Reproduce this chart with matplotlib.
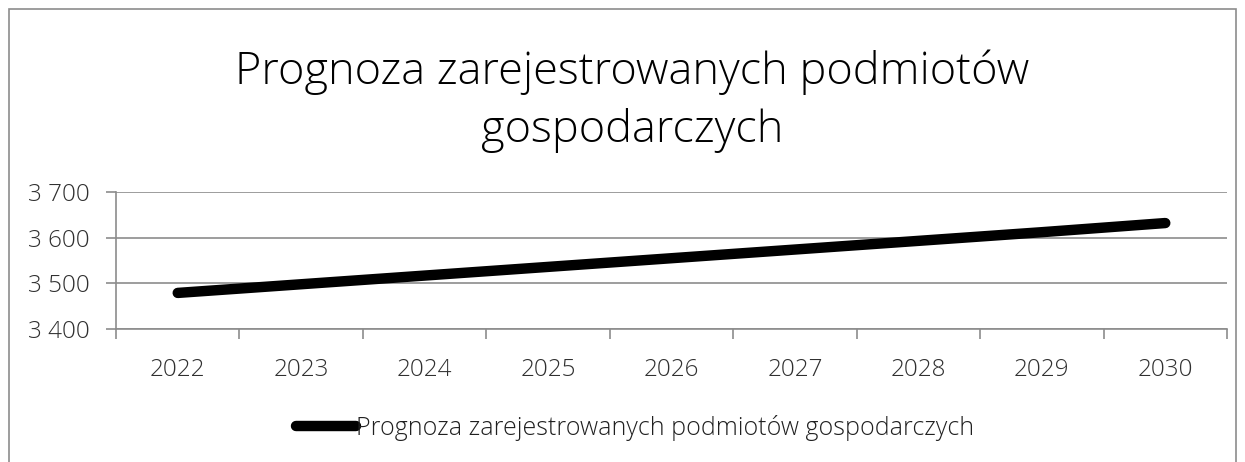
import matplotlib.pyplot as plt
from matplotlib.patches import Rectangle
from matplotlib.ticker import FuncFormatter

years = ['2022', '2023', '2024', '2025', '2026', '2027', '2028', '2029', '2030']
values = [3479, 3498, 3517, 3536, 3555, 3574, 3593, 3612, 3632]
label = 'Prognoza zarejestrowanych podmiotów gospodarczych'

plt.rcParams['font.family'] = ['Open Sans', 'DejaVu Sans']
plt.rcParams['font.weight'] = 'light'

grey = '#8c8c8c'
txt = '#303030'
fig = plt.figure(figsize=(12.45, 4.62), dpi=100)
# chart area border (cut off at the bottom)
fig.patches.append(Rectangle((9 / 1245, -0.1), 1227 / 1245, 1 - 9 / 462 + 0.1,
                             transform=fig.transFigure, fill=False,
                             edgecolor=grey, linewidth=1.2))

ax = fig.add_axes([116 / 1245, 1 - 329 / 462, (1227 - 116) / 1245, 137 / 462])
x = list(range(1, len(years) + 1))
ax.plot(x, values, color='black', linewidth=7.5, solid_capstyle='round', label=label)

ax.set_xlim(0.5, len(years) + 0.5)
ax.set_ylim(3400, 3700)
ax.set_yticks([3400, 3500, 3600, 3700])
ax.yaxis.set_major_formatter(FuncFormatter(lambda v, p: '{:,.0f}'.format(v).replace(',', ' ')))
ax.set_xticks([i + 0.5 for i in range(len(years) + 1)])
ax.set_xticklabels([])
ax.set_xticks(x, minor=True)
ax.set_xticklabels(years, minor=True)
ax.tick_params(axis='x', which='major', length=7, color=grey, width=1.2)
ax.tick_params(axis='x', which='minor', length=0, pad=21, labelsize=17.5, labelcolor=txt)
ax.tick_params(axis='y', length=7, color=grey, width=1.2, pad=12, labelsize=17.5, labelcolor=txt)
ax.grid(axis='y', color=grey, linewidth=1.2)
ax.set_axisbelow(True)
for s in ['top', 'right']:
    ax.spines[s].set_visible(False)
for s in ['left', 'bottom']:
    ax.spines[s].set_color(grey)
    ax.spines[s].set_linewidth(1.2)

fig.text(632 / 1245, 1 - 101 / 462, 'Prognoza zarejestrowanych podmiotów\ngospodarczych',
         ha='center', va='center', fontsize=32.5, linespacing=1.38, color='black')

fig.legend(loc='center', bbox_to_anchor=(635 / 1245, 1 - 428 / 462), frameon=False,
           fontsize=18, handlelength=2.4, handletextpad=0.0, labelcolor='#202020')

fig.savefig('out.png', dpi=100)
